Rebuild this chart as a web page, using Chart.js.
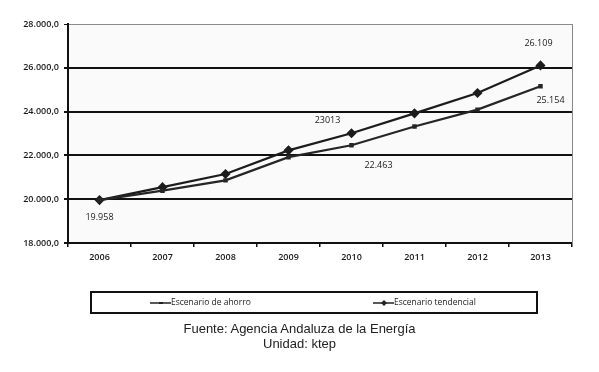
<!DOCTYPE html>
<html><head><meta charset="utf-8">
<script src="https://cdn.jsdelivr.net/npm/chart.js@4/dist/chart.umd.min.js"></script>
<style>
html,body{margin:0;padding:0;background:#fff;}
#wrap{position:relative;width:599px;height:372px;}
canvas{position:absolute;left:0;top:0;}
.foot{position:absolute;left:0;width:599px;text-align:center;font-family:"Liberation Sans",Arial,sans-serif;font-size:13px;color:#222;line-height:14px;}
</style></head>
<body>
<div id="wrap">
<canvas id="c" width="599" height="372"></canvas>
<div class="foot" style="top:322px;">Fuente: Agencia Andaluza de la Energía</div>
<div class="foot" style="top:337px;">Unidad: ktep</div>
</div>
<script>
const years = ['2006','2007','2008','2009','2010','2011','2012','2013'];
const ahorro = [19958, 20390, 20860, 21920, 22463, 23320, 24090, 25154];
const tendencial = [19958, 20550, 21150, 22230, 23013, 23920, 24850, 26109];
const seriesNames = ['Escenario de ahorro', 'Escenario tendencial'];
const yTicks = [18000, 20000, 22000, 24000, 26000, 28000];
const pointTexts = ['19.958', '23013', '22.463', '26.109', '25.154'];

const FONT = '"Open Sans", "DejaVu Sans", sans-serif';
const fmt = v => v.toLocaleString('de-DE') + ',0';

const decor = {
  id: 'decor',
  beforeDraw(chart) {
    const {ctx, chartArea: a} = chart;
    ctx.save();
    ctx.fillStyle = '#fafafa';
    ctx.fillRect(a.left, a.top, a.right - a.left, a.bottom - a.top);
    ctx.restore();
  },
  afterDatasetsDraw(chart) {
    const {ctx, chartArea: a} = chart;
    ctx.save();
    ctx.strokeStyle = '#888';
    ctx.lineWidth = 1;
    ctx.beginPath();
    ctx.moveTo(a.right + 0.5, a.top);
    ctx.lineTo(a.right + 0.5, a.bottom);
    ctx.stroke();
    const place = [
      {ds: 1, i: 0, dx: 0, dy: 17},
      {ds: 1, i: 4, dx: -24, dy: -13},
      {ds: 0, i: 4, dx: 27, dy: 20},
      {ds: 1, i: 7, dx: -2, dy: -22},
      {ds: 0, i: 7, dx: 10, dy: 14}
    ];
    ctx.font = '9px ' + FONT;
    ctx.fillStyle = '#1a1a1a';
    ctx.textAlign = 'center';
    ctx.textBaseline = 'middle';
    place.forEach((p, k) => {
      const el = chart.getDatasetMeta(p.ds).data[p.i];
      ctx.fillText(pointTexts[k], el.x + p.dx, el.y + p.dy);
    });
    ctx.strokeStyle = '#111';
    ctx.lineWidth = 2;
    ctx.strokeRect(91, 292, 446, 21);
    const items = [
      {x: 150, ds: 0},
      {x: 373, ds: 1}
    ];
    ctx.font = '8.5px ' + FONT;
    ctx.textAlign = 'left';
    items.forEach(it => {
      const y = 303;
      ctx.strokeStyle = '#222';
      ctx.lineWidth = 1.5;
      ctx.beginPath();
      ctx.moveTo(it.x, y);
      ctx.lineTo(it.x + 21, y);
      ctx.stroke();
      ctx.fillStyle = '#222';
      if (it.ds === 1) {
        ctx.beginPath();
        ctx.moveTo(it.x + 11, y - 3);
        ctx.lineTo(it.x + 14, y);
        ctx.lineTo(it.x + 11, y + 3);
        ctx.lineTo(it.x + 8, y);
        ctx.closePath();
        ctx.fill();
      } else {
        ctx.fillRect(it.x + 9, y - 1, 4, 2);
      }
      ctx.fillText(chart.data.datasets[it.ds].label, it.x + 21, y);
    });
    ctx.restore();
  }
};

new Chart(document.getElementById('c'), {
  type: 'line',
  data: {
    labels: years,
    datasets: [
      {label: seriesNames[0], data: ahorro, borderColor: '#262626', borderWidth: 2.2,
       pointStyle: 'rect', pointRadius: 1.6, pointBackgroundColor: '#262626', pointBorderColor: '#262626', tension: 0},
      {label: seriesNames[1], data: tendencial, borderColor: '#1c1c1c', borderWidth: 2.2,
       pointStyle: 'rectRot', pointRadius: 3.5, pointBackgroundColor: '#1c1c1c', pointBorderColor: '#1c1c1c', tension: 0}
    ]
  },
  options: {
    responsive: false,
    animation: false,
    devicePixelRatio: 1,
    layout: {padding: {left: 0, top: 24, right: 27, bottom: 0}},
    plugins: {legend: {display: false}, tooltip: {enabled: false}},
    scales: {
      x: {
        offset: true,
        grid: {offset: true, drawOnChartArea: false, drawTicks: true, tickLength: 4, color: '#111', lineWidth: 1.5},
        border: {color: '#111', width: 2},
        ticks: {font: {family: FONT, size: 9, weight: '600'}, color: '#1a1a1a', padding: 5, maxRotation: 0},
        afterFit: s => { s.height = 129; }
      },
      y: {
        min: 18000, max: 28000,
        afterBuildTicks: s => { s.ticks = yTicks.map(v => ({value: v})); },
        grid: {
          color: c => (c.tick && c.tick.value === 28000) ? '#8a8a8a' : '#111',
          lineWidth: c => (c.tick && c.tick.value === 28000) ? 1 : 2,
          tickColor: '#111', tickLength: 4, drawTicks: true
        },
        border: {color: '#111', width: 2},
        ticks: {font: {family: FONT, size: 9, weight: '600'}, color: '#1a1a1a', padding: 5,
                callback: v => fmt(v)},
        afterFit: s => { s.width = 68; }
      }
    }
  },
  plugins: [decor]
});
</script>
</body></html>
